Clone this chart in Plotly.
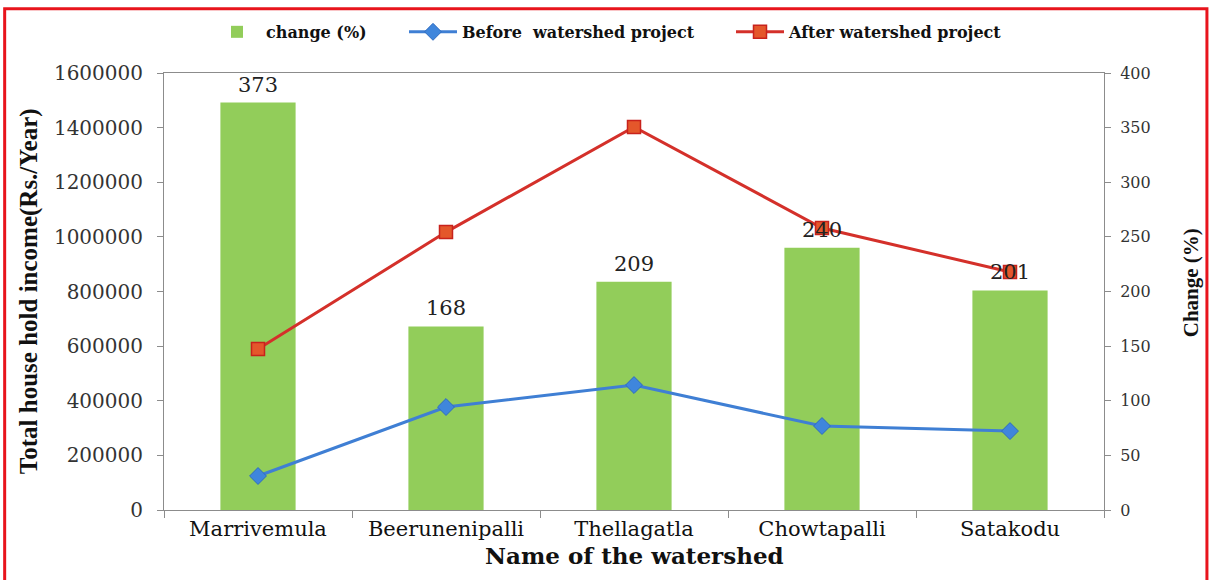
import plotly.graph_objects as go

# Watershed names and household income figures
watersheds = ["Marrivemula", "Beerunenipalli", "Thellagatla", "Chowtapalli", "Satakodu"]
change_pct = [373, 168, 209, 240, 201]
income_before = [124500, 377000, 457500, 307500, 289000]
income_after = [589500, 1017500, 1402500, 1032500, 871500]

left_ticks = list(range(0, 1600001, 200000))
right_ticks = list(range(0, 401, 50))

SERIF_WIDE = "DejaVu Serif"
SERIF_NARROW = "Liberation Serif"
AXIS_GREY = "#8c8c8c"

fig = go.Figure()

# Percent change bars on the right-hand axis
fig.add_trace(go.Bar(
    x=watersheds, y=change_pct, name="change (%)",
    marker=dict(color="#92cd5a", line=dict(width=0)),
    width=0.4, yaxis="y", legend="legend",
))

# Income lines on the left-hand axis (overlaid so they sit above the bars)
fig.add_trace(go.Scatter(
    x=watersheds, y=income_before, name="Before  watershed project",
    mode="lines+markers", yaxis="y2", legend="legend2",
    line=dict(color="#3f7fd4", width=3),
    marker=dict(symbol="diamond", size=13, color="#3f86dc",
                line=dict(color="#2f6cc0", width=1)),
))
fig.add_trace(go.Scatter(
    x=watersheds, y=income_after, name="After watershed project",
    mode="lines+markers", yaxis="y2", legend="legend3",
    line=dict(color="#d4302a", width=3),
    marker=dict(symbol="square", size=13, color="#e4572b",
                line=dict(color="#c8221c", width=1.5)),
))

# Value labels above each bar
annotations = [
    dict(x=w, y=v, xref="x", yref="y", text=str(v), showarrow=False,
         yanchor="bottom", yshift=4,
         font=dict(family=SERIF_WIDE, size=21, color="#222222"))
    for w, v in zip(watersheds, change_pct)
]

# Axis titles
annotations += [
    dict(x=0.5, y=-0.105, xref="paper", yref="paper", text="<b>Name of the watershed</b>",
         showarrow=False, xanchor="center", yanchor="middle",
         font=dict(family=SERIF_WIDE, size=23, color="#111111")),
    dict(x=-0.144, y=0.5, xref="paper", yref="paper",
         text="<b>Total house hold income(Rs./Year)</b>", textangle=-90,
         showarrow=False, xanchor="center", yanchor="middle",
         font=dict(family=SERIF_NARROW, size=25, color="#111111")),
    dict(x=1.092, y=0.52, xref="paper", yref="paper", text="<b>Change (%)</b>",
         textangle=-90, showarrow=False, xanchor="center", yanchor="middle",
         font=dict(family=SERIF_NARROW, size=21, color="#111111")),
]


def legend_box(x_px):
    # one legend entry per box, placed along the top strip
    return dict(
        orientation="h", x=(x_px - 164) / 940, y=1.094,
        xanchor="left", yanchor="middle",
        font=dict(family=SERIF_WIDE, size=16, color="#111111", weight="bold"),
        itemwidth=48, bgcolor="rgba(0,0,0,0)",
    )


fig.update_layout(
    width=1211, height=580,
    margin=dict(l=164, r=107, t=73, b=70, autoexpand=False),
    paper_bgcolor="white", plot_bgcolor="white",
    showlegend=True,
    legend=legend_box(208),
    legend2=legend_box(404),
    legend3=legend_box(731),
    xaxis=dict(
        type="category", range=[-0.5, 4.5],
        showline=True, linecolor=AXIS_GREY, linewidth=1, mirror=True,
        ticks="outside", tickson="boundaries", ticklen=7, tickcolor=AXIS_GREY,
        showgrid=False, zeroline=False,
        tickfont=dict(family=SERIF_WIDE, size=21, color="#111111"),
    ),
    yaxis=dict(
        side="right", range=[0, 400], tickvals=right_ticks,
        showline=True, linecolor=AXIS_GREY, linewidth=1,
        ticks="outside", ticklen=6, tickcolor=AXIS_GREY, ticklabelstandoff=6,
        showgrid=False, zeroline=False,
        tickfont=dict(family=SERIF_WIDE, size=16, color="#333333"),
    ),
    yaxis2=dict(
        side="left", overlaying="y", range=[0, 1600000], tickvals=left_ticks,
        tickformat="d",
        showline=True, linecolor=AXIS_GREY, linewidth=1,
        ticks="outside", ticklen=6, tickcolor=AXIS_GREY, ticklabelstandoff=10,
        showgrid=False, zeroline=False,
        tickfont=dict(family=SERIF_WIDE, size=20, color="#333333"),
    ),
    annotations=annotations,
    shapes=[
        dict(type="rect", xref="paper", yref="paper",
             x0=-0.1695, x1=1.1095, y0=-0.2, y1=1.147,
             line=dict(color="#e8141c", width=3), fillcolor="rgba(0,0,0,0)",
             layer="above"),
    ],
)

fig.write_html("out.html")
